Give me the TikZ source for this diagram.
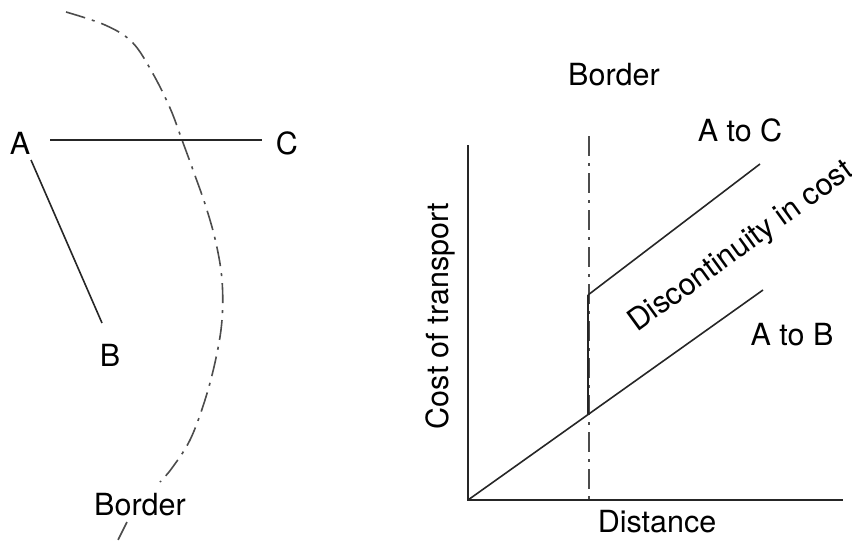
\documentclass[tikz,border=0pt]{standalone}
\usepackage{fontspec}
\setmainfont{TeX Gyre Heros}
\begin{document}
\begin{tikzpicture}[x=1pt,y=-1pt,
  lbl/.style={inner sep=0pt,font=\fontsize{30.5}{33}\selectfont},
  solidline/.style={line width=1.6pt,black!85},
  axis/.style={line width=2pt,black!85},
  bordline/.style={line width=1.6pt,black!70,dash pattern=on 20pt off 7pt on 3pt off 7pt}]
\useasboundingbox (0,0) rectangle (852,544);
\clip (0,0) rectangle (852,544);
% ---------- left map ----------
\node[lbl] (A) at (20,143) {A};
\node[lbl] (C) at (287,143) {C};
\node[lbl] (B) at (110,355) {B};
\coordinate (Aeast) at (50,140);
\coordinate (Cwest) at (262,140);
\coordinate (Asouth) at (31,160);
\coordinate (Bnorth) at (102,323);
\draw[solidline] (Aeast) -- (Cwest);
\draw[solidline] (Asouth) -- (Bnorth);
\draw[bordline] plot[smooth,tension=0.6] coordinates {(66,12) (105,25) (132,42) (152,72) (170,108) (182,140) (193,170) (206,207) (216,243) (222,280) (222,320) (216,358) (205,400) (190,440) (172,468) (160,482)};
\draw[bordline] (127,522) -- (116,544);
\node[lbl] (bordL) at (140,505) {Border};
% ---------- right graph ----------
\coordinate (O) at (468,500);
\coordinate (ytop) at (468,145);
\coordinate (xend) at (843,500);
\draw[axis] (ytop) -- (O) -- (xend);
\coordinate (btop) at (589,136);
\coordinate (bbot) at (589,500);
\draw[bordline] (btop) -- (bbot);
\coordinate (PB) at (588,414);
\coordinate (PC) at (588,295);
\coordinate (ABend) at (763,290);
\coordinate (ACend) at (760,164);
\draw[solidline] (O) -- (ABend);
\draw[solidline] (PC) -- (ACend);
\draw[line width=2.4pt,black!85] (PB) -- (PC);
\node[lbl] (bordR) at (614,75) {Border};
\node[lbl] (AtoC) at (740,130) {A to C};
\node[lbl] (AtoB) at (792,335) {A to B};
\node[lbl,anchor=base west,rotate=36] (disc) at (637,333) {Discontinuity in cost};
\node[lbl,rotate=90] (cost) at (440,316) {Cost of transport};
\node[lbl] (dist) at (657,522) {Distance};
\end{tikzpicture}
\end{document}
